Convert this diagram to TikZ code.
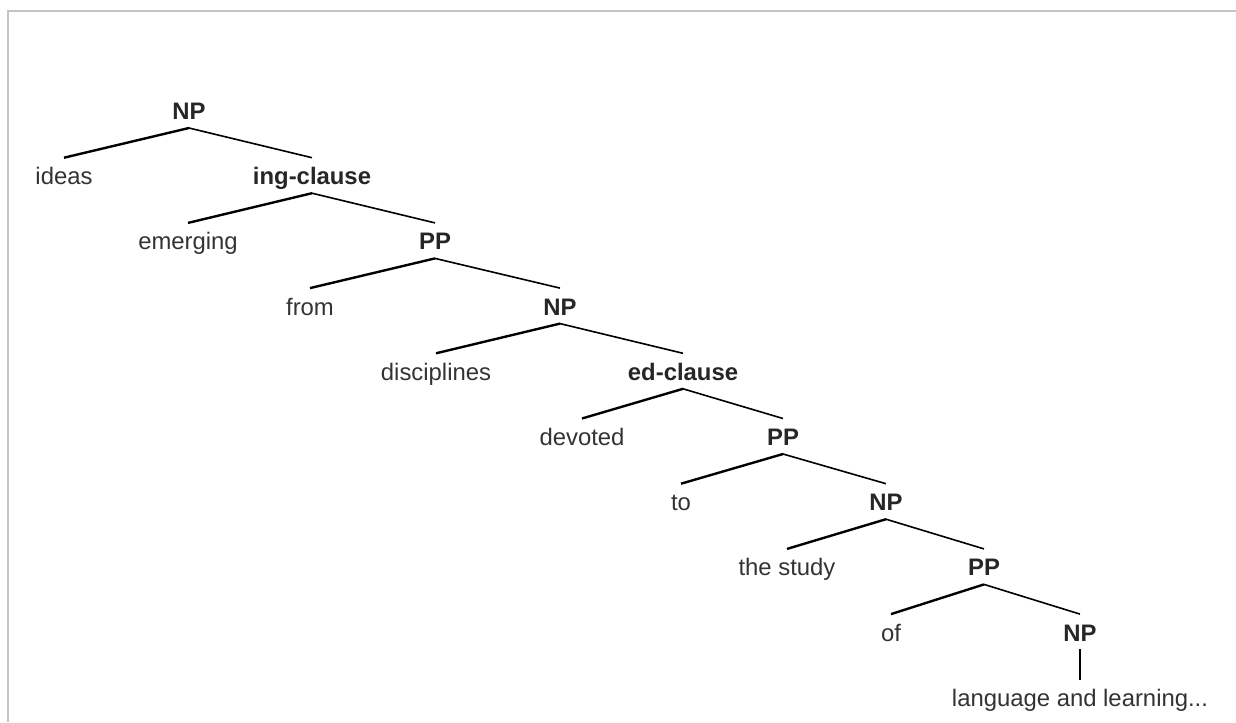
\documentclass[tikz,border=0pt]{standalone}
\usepackage{fontspec}
\setmainfont{Liberation Sans}
\usetikzlibrary{calc}
\definecolor{txt}{HTML}{333333}
\definecolor{frame}{HTML}{C4C4C4}
\begin{document}
\begin{tikzpicture}[x=0.75pt,y=-0.75pt,
  lab/.style={anchor=base,inner sep=0pt,text=txt,font=\fontsize{17.9}{21}\selectfont},
  cat/.style={lab,font=\fontsize{17.9}{21}\selectfont\bfseries,text=black!85},
  lbranch/.style={line width=1.8pt,black},
  rbranch/.style={line width=1.2pt,black}]
\useasboundingbox (0,0) rectangle (1236,722);
\draw[frame,line width=1.1pt] (8,722) -- (8,11) -- (1236,11);
% nodes
\node[cat] (np0) at (189,119.5) {NP};
\node[lab] (ideas) at (64,184.7) {ideas};
\node[cat] (ing) at (312,184.7) {ing-clause};
\node[lab] (emerging) at (188,249.9) {emerging};
\node[cat] (pp1) at (435,249.9) {PP};
\node[lab] (from) at (310,315.1) {from};
\node[cat] (np2) at (560,315.1) {NP};
\node[lab] (disc) at (436,380.3) {disciplines};
\node[cat] (ed) at (683,380.3) {ed-clause};
\node[lab] (devoted) at (582,445.5) {devoted};
\node[cat] (pp3) at (783,445.5) {PP};
\node[lab] (to) at (681,510.7) {to};
\node[cat] (np4) at (886,510.7) {NP};
\node[lab] (study) at (787,575.9) {the study};
\node[cat] (pp5) at (984,575.9) {PP};
\node[lab] (of) at (891,641.1) {of};
\node[cat] (np6) at (1080,641.1) {NP};
\node[lab] (lang) at (1080,706.3) {language and learning...};
% connectors
\foreach \p/\l/\r in {np0/ideas/ing, ing/emerging/pp1, pp1/from/np2, np2/disc/ed,
                      ed/devoted/pp3, pp3/to/np4, np4/study/pp5, pp5/of/np6} {
  \draw[lbranch] ($(\p.base)+(0,8.5)$) -- ($(\l.base)+(0,-27)$);
  \draw[rbranch] ($(\p.base)+(0,8.5)$) -- ($(\r.base)+(0,-27)$);
}
\draw[rbranch] ($(np6.base)+(0,8)$) -- ($(lang.base)+(0,-26)$);
\end{tikzpicture}
\end{document}
